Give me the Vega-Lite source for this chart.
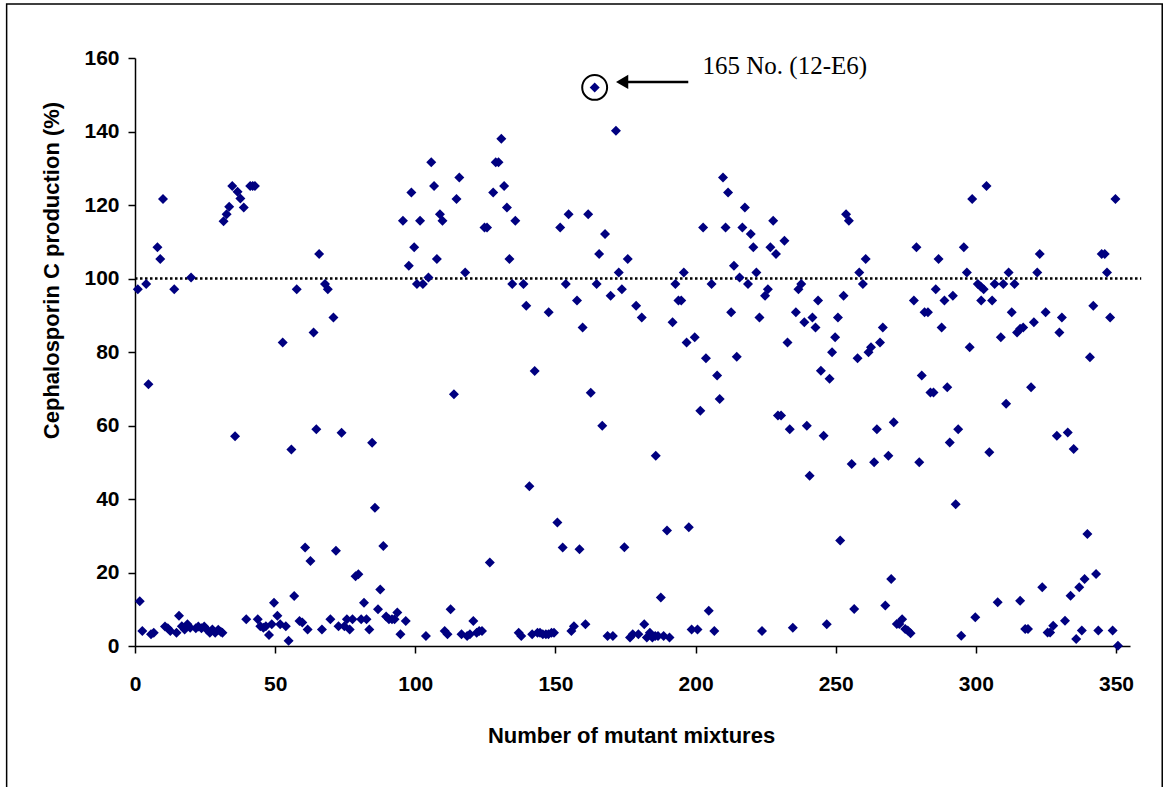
{
  "$schema": "https://vega.github.io/schema/vega-lite/v6.json",
  "width": 995,
  "height": 588,
  "autosize": {"type": "none"},
  "padding": {"left": 135, "top": 58, "right": 33, "bottom": 141},
  "background": "white",
  "config": {
    "view": {"stroke": null},
    "axis": {
      "grid": false,
      "domainColor": "black",
      "domainWidth": 1.5,
      "tickColor": "black",
      "tickWidth": 1.5,
      "tickSize": 7,
      "labelFont": "Liberation Sans",
      "labelFontWeight": "bold",
      "labelFontSize": 21,
      "labelColor": "black",
      "titleFont": "Liberation Sans",
      "titleFontWeight": "bold",
      "titleColor": "black"
    }
  },
  "datasets": {
    "one": [{"k": "a"}],
    "pts": [
      {"n":1,"p":97.1},{"n":4,"p":98.5},{"n":8,"p":108.5},{"n":9,"p":105.3},{"n":10,"p":121.6},{"n":14,"p":97.1},{"n":20,"p":100.3},
      {"n":31.6,"p":115.6},{"n":32.7,"p":117.5},{"n":33.6,"p":119.5},{"n":34.7,"p":125.2},{"n":36.6,"p":123.6},{"n":37.6,"p":121.8},{"n":38.8,"p":119.3},
      {"n":41.1,"p":125.2},{"n":42,"p":125.2},{"n":42.8,"p":125.2},{"n":52.7,"p":82.6},{"n":57.7,"p":97.1},{"n":63.7,"p":85.3},{"n":65.7,"p":106.7},
      {"n":67.8,"p":98.5},{"n":68.8,"p":97.1},{"n":70.8,"p":89.4},
      {"n":4.8,"p":71.2},{"n":35.7,"p":57.1},{"n":64.7,"p":59.0},{"n":73.7,"p":58.0},{"n":55.8,"p":53.5},{"n":84.6,"p":55.3},{"n":85.6,"p":37.6},
      {"n":60.7,"p":26.8},{"n":62.6,"p":23.1},{"n":71.7,"p":25.9},{"n":78.7,"p":19.0},{"n":79.7,"p":19.5},{"n":1.7,"p":12.2},{"n":2.6,"p":4.1},
      {"n":5.7,"p":3.2},{"n":6.7,"p":3.6},{"n":10.7,"p":5.3},{"n":11.7,"p":4.8},{"n":12.6,"p":4.1},{"n":14.8,"p":3.6},{"n":15.7,"p":8.2},
      {"n":16.7,"p":5.4},{"n":17.7,"p":4.5},{"n":18.7,"p":5.9},{"n":19.7,"p":5.0},{"n":21.7,"p":4.8},{"n":22.6,"p":5.3},{"n":23.7,"p":4.8},
      {"n":24.7,"p":5.3},{"n":25.6,"p":4.5},{"n":26.7,"p":3.6},{"n":27.6,"p":4.5},{"n":28.6,"p":3.6},{"n":29.7,"p":4.4},{"n":30.6,"p":3.9},{"n":31.2,"p":3.6},
      {"n":39.7,"p":7.3},{"n":43.8,"p":7.3},{"n":44.7,"p":5.4},{"n":45.8,"p":5.0},{"n":46.7,"p":5.4},{"n":47.8,"p":3.0},{"n":48.8,"p":5.9},
      {"n":49.6,"p":11.8},{"n":50.8,"p":8.2},{"n":51.8,"p":5.9},{"n":53.8,"p":5.4},{"n":54.8,"p":1.4},{"n":56.8,"p":13.6},{"n":58.7,"p":6.8},
      {"n":59.7,"p":6.4},{"n":61.6,"p":4.5},{"n":66.7,"p":4.5},{"n":69.7,"p":7.3},{"n":72.6,"p":5.4},{"n":74.7,"p":5.4},{"n":75.6,"p":7.3},
      {"n":76.6,"p":4.5},{"n":77.6,"p":7.3},{"n":80.7,"p":7.3},{"n":81.7,"p":11.8},{"n":82.6,"p":7.3},{"n":83.6,"p":4.5},{"n":86.7,"p":10.0},{"n":87.5,"p":15.4},
      {"n":88.6,"p":27.2},{"n":89.6,"p":8.0},{"n":90.6,"p":7.3},{"n":91.7,"p":7.3},{"n":92.6,"p":7.3},{"n":93.6,"p":9.1},{"n":96.6,"p":6.8},
      {"n":94.7,"p":3.2},{"n":113.8,"p":68.5},{"n":103.8,"p":2.7},{"n":110.5,"p":4.1},{"n":111.5,"p":3.2},{"n":112.6,"p":10.0},
      {"n":116.5,"p":3.2},{"n":118.5,"p":2.7},{"n":119.5,"p":3.2},{"n":120.7,"p":6.8},{"n":121.9,"p":3.6},{"n":122.8,"p":4.1},{"n":123.8,"p":4.1},
      {"n":126.6,"p":22.7},{"n":136.9,"p":3.6},{"n":137.8,"p":2.7},{"n":140.7,"p":43.5},{"n":142.6,"p":74.8},
      {"n":141.7,"p":3.2},{"n":143.6,"p":3.6},{"n":144.5,"p":3.6},{"n":145.5,"p":3.2},{"n":146.6,"p":3.2},{"n":147.5,"p":3.2},{"n":148.6,"p":3.6},{"n":149.5,"p":3.6},
      {"n":150.7,"p":33.6},{"n":152.6,"p":26.8},{"n":158.6,"p":26.3},{"n":155.7,"p":4.1},{"n":156.6,"p":5.4},{"n":160.7,"p":5.9},
      {"n":162.6,"p":68.9},{"n":166.7,"p":59.9},{"n":168.6,"p":2.7},{"n":170.5,"p":2.7},
      {"n":95.6,"p":115.7},{"n":98.6,"p":123.4},{"n":99.6,"p":108.5},{"n":97.7,"p":103.5},{"n":100.6,"p":98.5},{"n":102.7,"p":98.5},{"n":101.7,"p":115.7},
      {"n":104.7,"p":100.3},{"n":105.7,"p":131.6},{"n":106.7,"p":125.2},{"n":107.7,"p":105.3},{"n":108.8,"p":117.5},{"n":109.7,"p":115.7},
      {"n":114.7,"p":121.6},{"n":115.7,"p":127.5},{"n":117.8,"p":101.6},{"n":124.7,"p":113.9},{"n":125.6,"p":113.9},{"n":127.8,"p":123.4},
      {"n":128.7,"p":131.6},{"n":129.7,"p":131.6},{"n":130.7,"p":138.0},{"n":131.7,"p":125.2},{"n":132.7,"p":119.3},{"n":133.6,"p":105.3},
      {"n":134.6,"p":98.5},{"n":135.7,"p":115.7},{"n":138.6,"p":98.5},{"n":139.6,"p":92.6},{"n":147.6,"p":90.8},{"n":151.7,"p":113.9},
      {"n":154.7,"p":117.5},{"n":153.7,"p":98.5},{"n":157.7,"p":94.0},{"n":159.7,"p":86.7},{"n":161.7,"p":117.5},{"n":164,"p":152.0},
      {"n":164.7,"p":98.5},{"n":165.6,"p":106.7},{"n":167.7,"p":112.1},{"n":169.7,"p":95.3},{"n":171.6,"p":140.2},{"n":172.6,"p":101.6},{"n":173.7,"p":97.1},
      {"n":175.8,"p":105.3},{"n":178.8,"p":92.6},{"n":180.8,"p":89.4},{"n":191.8,"p":88.1},{"n":192.8,"p":98.5},{"n":193.9,"p":94.0},{"n":194.9,"p":94.0},
      {"n":195.8,"p":101.6},{"n":196.8,"p":82.6},{"n":199.7,"p":84.0},{"n":203.7,"p":78.3},{"n":202.7,"p":113.9},{"n":205.7,"p":98.5},
      {"n":209.8,"p":127.5},{"n":210.7,"p":113.9},{"n":211.6,"p":123.4},{"n":212.7,"p":90.8},{"n":213.7,"p":103.5},{"n":214.7,"p":78.7},
      {"n":215.7,"p":100.3},{"n":216.7,"p":113.9},{"n":217.6,"p":119.3},{"n":218.7,"p":98.5},{"n":219.7,"p":112.1},{"n":220.6,"p":108.5},
      {"n":221.7,"p":101.6},{"n":222.8,"p":89.4},{"n":224.8,"p":95.3},{"n":225.8,"p":97.1},{"n":226.7,"p":108.5},{"n":228.7,"p":106.7},
      {"n":227.7,"p":115.7},{"n":231.7,"p":110.3},{"n":232.8,"p":82.6},{"n":235.8,"p":90.8},{"n":236.7,"p":97.1},{"n":237.7,"p":98.5},
      {"n":238.8,"p":88.1},{"n":241.7,"p":89.4},{"n":242.8,"p":86.7},{"n":243.7,"p":94.0},{"n":250.8,"p":89.4},{"n":249.8,"p":84.0},
      {"n":248.7,"p":79.9},{"n":252.8,"p":95.3},{"n":253.7,"p":117.5},{"n":254.7,"p":115.7},{"n":258.4,"p":101.6},{"n":257.8,"p":78.3},
      {"n":207.7,"p":73.6},{"n":201.7,"p":64.0},{"n":208.6,"p":67.2},{"n":244.7,"p":74.9},{"n":247.8,"p":72.7},{"n":229.4,"p":62.7},
      {"n":230.5,"p":62.7},{"n":233.6,"p":59.0},{"n":239.7,"p":59.9},{"n":245.7,"p":57.2},{"n":240.7,"p":46.3},{"n":255.7,"p":49.5},
      {"n":185.8,"p":51.8},{"n":189.8,"p":31.4},{"n":197.6,"p":32.3},{"n":251.6,"p":28.7},{"n":174.6,"p":26.9},{"n":187.6,"p":13.2},
      {"n":204.7,"p":9.6},{"n":256.6,"p":10.1},
      {"n":176.6,"p":2.3},{"n":177.6,"p":3.2},{"n":179.6,"p":3.2},{"n":181.7,"p":5.9},{"n":182.6,"p":2.3},{"n":183.7,"p":3.6},{"n":184.6,"p":2.3},
      {"n":185.6,"p":2.7},{"n":186.6,"p":2.7},{"n":188.6,"p":2.7},{"n":190.7,"p":2.3},{"n":198.6,"p":4.5},{"n":200.7,"p":4.5},{"n":206.7,"p":4.1},
      {"n":223.7,"p":4.1},{"n":234.7,"p":5.0},{"n":246.8,"p":5.9},
      {"n":260.7,"p":105.3},{"n":259.7,"p":98.5},{"n":266.8,"p":86.7},{"n":265.8,"p":82.6},{"n":262.6,"p":81.3},{"n":261.7,"p":79.9},
      {"n":278.8,"p":108.5},{"n":277.9,"p":94.0},{"n":281.7,"p":90.8},{"n":282.9,"p":90.8},{"n":285.7,"p":97.1},{"n":286.7,"p":105.3},
      {"n":288.8,"p":94.0},{"n":291.8,"p":95.3},{"n":287.8,"p":86.7},{"n":295.7,"p":108.5},{"n":296.8,"p":101.6},{"n":298.7,"p":121.6},
      {"n":297.8,"p":81.3},{"n":300.7,"p":98.5},{"n":301.7,"p":97.8},{"n":302.8,"p":97.1},{"n":301.9,"p":94.0},{"n":303.8,"p":125.2},
      {"n":305.8,"p":94.0},{"n":306.7,"p":98.5},{"n":309.8,"p":98.5},{"n":311.7,"p":101.6},{"n":313.8,"p":98.5},{"n":308.9,"p":84.0},
      {"n":312.8,"p":90.8},{"n":314.7,"p":85.3},{"n":315.8,"p":86.3},{"n":316.9,"p":86.7},{"n":320.7,"p":88.1},{"n":321.9,"p":101.6},
      {"n":322.8,"p":106.7},{"n":324.9,"p":90.8},{"n":329.8,"p":85.3},{"n":330.7,"p":89.4},{"n":340.7,"p":78.6},{"n":341.9,"p":92.6},
      {"n":344.9,"p":106.7},{"n":346,"p":106.7},{"n":346.8,"p":101.6},{"n":347.9,"p":89.4},{"n":349.8,"p":121.6},
      {"n":280.7,"p":73.6},{"n":283.8,"p":69.0},{"n":284.9,"p":69.0},{"n":289.8,"p":70.4},{"n":310.8,"p":65.9},{"n":319.7,"p":70.4},
      {"n":264.7,"p":59.0},{"n":270.7,"p":60.9},{"n":263.7,"p":50.0},{"n":268.8,"p":51.8},{"n":279.8,"p":50.0},{"n":290.7,"p":55.4},
      {"n":293.7,"p":59.0},{"n":304.8,"p":52.7},{"n":292.8,"p":38.6},{"n":328.9,"p":57.2},{"n":332.8,"p":58.1},{"n":334.9,"p":53.6},
      {"n":339.8,"p":30.5},{"n":269.8,"p":18.2},{"n":267.7,"p":11.0},{"n":342.9,"p":19.6},{"n":338.8,"p":18.2},{"n":336.9,"p":16.0},
      {"n":333.8,"p":13.7},{"n":323.7,"p":16.0},{"n":315.8,"p":12.3},{"n":307.8,"p":11.9},{"n":299.8,"p":7.8},{"n":294.8,"p":2.8},
      {"n":271.8,"p":6.0},{"n":273.7,"p":7.3},{"n":272.7,"p":6.0},{"n":274.8,"p":4.6},{"n":275.7,"p":4.2},{"n":276.7,"p":3.5},
      {"n":317.6,"p":4.6},{"n":318.6,"p":4.6},{"n":325.6,"p":3.7},{"n":326.5,"p":3.7},{"n":327.6,"p":5.5},{"n":331.8,"p":6.9},
      {"n":335.8,"p":1.9},{"n":337.8,"p":4.2},{"n":343.7,"p":4.2},{"n":348.8,"p":4.2},{"n":350.7,"p":0.1}
    ]
  },
  "encoding": {
    "x": {
      "type": "quantitative",
      "scale": {"domain": [0, 355], "nice": false, "zero": false},
      "axis": {
        "title": "Number of mutant mixtures",
        "values": [0, 50, 100, 150, 200, 250, 300, 350],
        "labelPadding": 20,
        "labelFlush": false,
        "titleFontSize": 22,
        "titleX": 496,
        "titleY": 96,
        "titleBaseline": "alphabetic",
        "titleAlign": "center"
      }
    },
    "y": {
      "type": "quantitative",
      "scale": {"domain": [0, 160], "nice": false},
      "axis": {
        "title": "Cephalosporin C production (%)",
        "values": [0, 20, 40, 60, 80, 100, 120, 140, 160],
        "labelPadding": 9,
        "labelFlush": false,
        "titleFontSize": 22,
        "titleAngle": 270,
        "titleX": -77,
        "titleY": 212,
        "titleBaseline": "alphabetic",
        "titleAlign": "center"
      }
    }
  },
  "layer": [
    {
      "data": {"name": "one"},
      "mark": {"type": "rect", "fillOpacity": 0, "stroke": "black", "strokeWidth": 1.5, "clip": false},
      "encoding": {
        "x": {"datum": -45.8},
        "x2": {"datum": 366.5},
        "y": {"datum": 174.7},
        "y2": {"datum": -40}
      }
    },
    {
      "data": {"name": "one"},
      "mark": {"type": "rule", "color": "black", "strokeWidth": 2.5, "strokeDash": [2.5, 2.5]},
      "encoding": {
        "x": {"datum": 0},
        "x2": {"datum": 359},
        "y": {"datum": 100}
      }
    },
    {
      "data": {"name": "pts"},
      "mark": {"type": "point", "shape": "diamond", "filled": true, "color": "#000080", "size": 100, "opacity": 1},
      "encoding": {
        "x": {"field": "n", "type": "quantitative"},
        "y": {"field": "p", "type": "quantitative"}
      }
    },
    {
      "data": {"name": "one"},
      "mark": {"type": "point", "shape": "circle", "filled": false, "stroke": "black", "strokeWidth": 2, "size": 620, "opacity": 1},
      "encoding": {
        "x": {"datum": 164},
        "y": {"datum": 152}
      }
    },
    {
      "data": {"name": "one"},
      "mark": {"type": "rule", "color": "black", "strokeWidth": 2.5},
      "encoding": {
        "x": {"datum": 174},
        "x2": {"datum": 197.4},
        "y": {"datum": 153.5}
      }
    },
    {
      "data": {"name": "one"},
      "mark": {"type": "point", "shape": "triangle-left", "filled": true, "color": "black", "size": 200, "opacity": 1},
      "encoding": {
        "x": {"datum": 173.8},
        "y": {"datum": 153.5}
      }
    },
    {
      "data": {"name": "one"},
      "mark": {"type": "text", "text": "165 No. (12-E6)", "font": "Liberation Serif", "fontSize": 25, "align": "left", "baseline": "alphabetic", "color": "black"},
      "encoding": {
        "x": {"datum": 202.5},
        "y": {"datum": 155.6}
      }
    }
  ]
}
